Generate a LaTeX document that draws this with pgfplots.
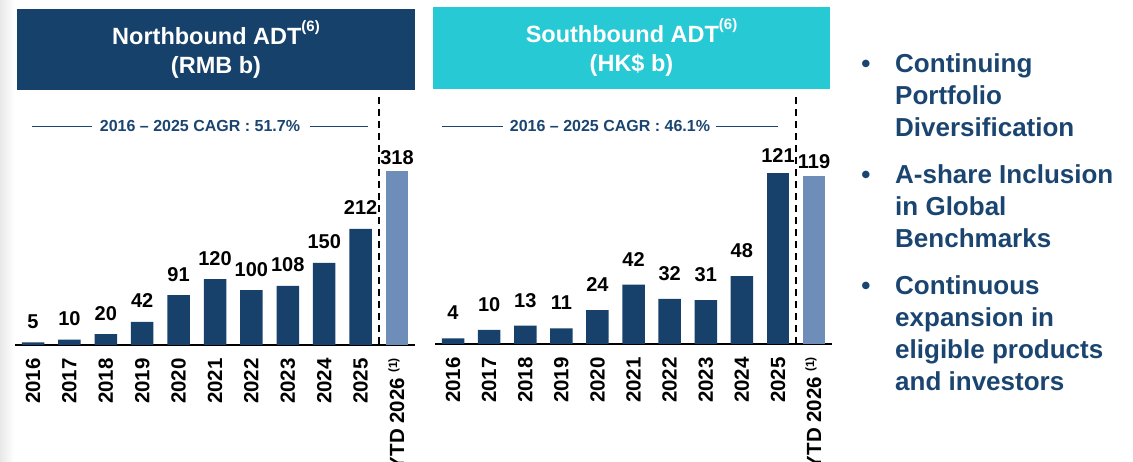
\documentclass[border=0pt]{standalone}
\usepackage{pgfplots}
\pgfplotsset{compat=1.18}
\usepackage{fontspec}
\setmainfont{Liberation Sans}
\definecolor{navy}{HTML}{17416B}
\definecolor{hdrnavy}{HTML}{16416A}
\definecolor{tealh}{HTML}{27C9D4}
\definecolor{ytd}{HTML}{6F8DB9}
\definecolor{txtnavy}{HTML}{1B4571}
\begin{document}
\begin{tikzpicture}[x=1pt,y=1pt]
\useasboundingbox (0,0) rectangle (1133,462);
\shade[left color=gray!18, right color=white] (0,0) rectangle (14,462);
% headers
\fill[hdrnavy] (17,453) rectangle (415,372);
\fill[tealh] (433,455) rectangle (830,373);
\node[anchor=base, text=white, font=\fontsize{23.5}{28}\bfseries\selectfont] at (216,417) {Northbound ADT\raisebox{13pt}{\fontsize{15}{15}\selectfont(6)}};
\node[anchor=base, text=white, font=\fontsize{23.5}{28}\bfseries\selectfont] at (216,388) {(RMB b)};
\node[anchor=base, text=white, font=\fontsize{23.5}{28}\bfseries\selectfont] at (631.5,419) {Southbound ADT\raisebox{13pt}{\fontsize{15}{15}\selectfont(6)}};
\node[anchor=base, text=white, font=\fontsize{23.5}{28}\bfseries\selectfont] at (631.5,390) {(HK\$ b)};
% CAGR
\draw[txtnavy, line width=0.8pt] (32,336) -- (92,336);
\draw[txtnavy, line width=0.8pt] (310,336) -- (368,336);
\node[text=txtnavy, inner sep=0pt, font=\fontsize{16}{16}\bfseries\selectfont] at (200,336) {2016 – 2025 CAGR : 51.7\%};
\draw[txtnavy, line width=0.8pt] (442,336) -- (503,336);
\draw[txtnavy, line width=0.8pt] (716,336) -- (778,336);
\node[text=txtnavy, inner sep=0pt, font=\fontsize{16}{16}\bfseries\selectfont] at (610,336) {2016 – 2025 CAGR : 46.1\%};

\pgfplotsset{
  hkexbar/.style={
    scale only axis, anchor=south west,
    xmin=-0.5, xmax=10.5, ymin=0,
    ybar, bar width=22.5pt, bar shift=0pt,
    axis x line=bottom, axis y line=none, axis line style={-, line width=2pt, black},
    xtick={0,...,10}, ytick=\empty,
    xticklabels={2016,2017,2018,2019,2020,2021,2022,2023,2024,2025,{YTD 2026\hspace{5pt}\smash{\raisebox{7pt}{\fontsize{12}{12}\selectfont(1)}}}},
    major tick length=0pt,
    xticklabel style={rotate=90, anchor=east, inner sep=0pt, font=\fontsize{20.5}{20.5}\bfseries\selectfont, text=black},
    xticklabel shift=13pt,
    clip=false,
    /pgf/number format/assume math mode=true,
    nodes near coords={\pgfmathprintnumber[assume math mode=true]{\pgfplotspointmeta}},
    every node near coord/.append style={anchor=base, inner sep=0pt, font=\fontsize{20}{20}\bfseries\selectfont, text=black},
  }
}

\begin{axis}[hkexbar, at={(14.8pt,117pt)}, width=400.4pt, height=191.8pt, ymax=350,
  every node near coord/.append style={yshift=14pt}]
\addplot[fill=navy, draw=none] coordinates {(0,5) (1,10) (2,20) (3,42) (4,91) (5,120) (6,100) (7,108) (8,150) (9,212)};
\addplot[fill=ytd, draw=none, every node near coord/.append style={yshift=-8pt}] coordinates {(10,318)};
\draw[black, line width=1.5pt, dash pattern=on 7pt off 5pt] (axis cs:9.5,452) -- (axis cs:9.5,0);
\end{axis}

\begin{axis}[hkexbar, at={(435pt,118pt)}, width=397.1pt, height=183.7pt, ymax=130,
  every node near coord/.append style={yshift=18.5pt}]
\addplot[fill=navy, draw=none] coordinates {(0,4) (1,10) (2,13) (3,11) (4,24) (5,42) (6,32) (7,31) (8,48)};
\addplot[fill=navy, draw=none, every node near coord/.append style={yshift=-7.5pt}] coordinates {(9,121)};
\addplot[fill=ytd, draw=none, every node near coord/.append style={yshift=-11.5pt}] coordinates {(10,119)};
\draw[black, line width=1.5pt, dash pattern=on 7pt off 5pt] (axis cs:9.5,174.8) -- (axis cs:9.5,0);
\end{axis}

% bullets
\begin{scope}[every node/.style={text=txtnavy, font=\fontsize{26}{32}\bfseries\selectfont, inner sep=0pt}]
\node[anchor=base] at (866,389.5) {•};
\node[anchor=base west] at (895,389.5) {Continuing};
\node[anchor=base west] at (895,357.5) {Portfolio};
\node[anchor=base west] at (895,325.5) {Diversification};
\node[anchor=base] at (866,278) {•};
\node[anchor=base west] at (895,278) {A-share Inclusion};
\node[anchor=base west] at (895,246) {in Global};
\node[anchor=base west] at (895,214) {Benchmarks};
\node[anchor=base] at (866,167) {•};
\node[anchor=base west] at (895,167) {Continuous};
\node[anchor=base west] at (895,135) {expansion in};
\node[anchor=base west] at (895,103) {eligible products};
\node[anchor=base west] at (895,71) {and investors};
\end{scope}
\end{tikzpicture}
\end{document}
